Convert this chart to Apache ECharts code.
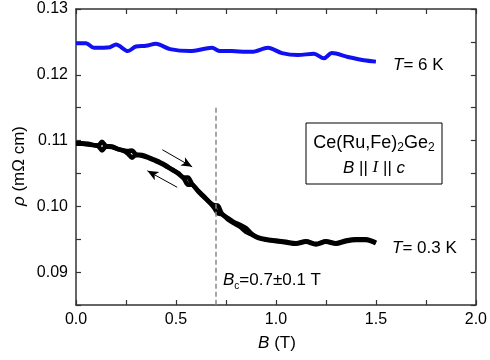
<!DOCTYPE html>
<html>
<head>
<meta charset="utf-8">
<script src="https://cdn.jsdelivr.net/npm/echarts@6/dist/echarts.min.js"></script>
<style>
  html, body { margin: 0; padding: 0; background: #fff; }
  #chart { width: 490px; height: 360px; }
</style>
</head>
<body>
<div id="chart"></div>
<script>
// Field sweep, B in tesla
const FONT = '"Liberation Sans", Arial, sans-serif';

// T = 6 K resistivity (mΩ cm)
const fieldT6 = [0, 0.05, 0.09, 0.17, 0.2, 0.26, 0.3, 0.35, 0.4, 0.47, 0.57, 0.68, 0.72, 0.78, 0.85, 0.88, 0.96, 1.03, 1.11, 1.19, 1.24, 1.28, 1.36, 1.44, 1.5];
const rhoT6   = [0.1248, 0.1248, 0.1241, 0.1242, 0.1246, 0.1236, 0.1243, 0.1244, 0.1247, 0.1239, 0.1236, 0.1241, 0.1236, 0.1236, 0.1235, 0.1235, 0.1241, 0.1233, 0.1230, 0.1232, 0.1225, 0.1233, 0.1227, 0.1222, 0.1220];

// T = 0.3 K, increasing and decreasing field sweeps
const fieldT03 = [0, 0.03, 0.06, 0.09, 0.11, 0.13, 0.15, 0.18, 0.21, 0.24, 0.26, 0.28, 0.30, 0.33, 0.36, 0.39, 0.42, 0.45, 0.48, 0.51, 0.54, 0.56, 0.58, 0.61, 0.64, 0.67, 0.69, 0.71, 0.73, 0.76, 0.79, 0.82, 0.85, 0.88, 0.91, 0.95, 1.0, 1.05, 1.1, 1.15, 1.2, 1.25, 1.3, 1.35, 1.4, 1.45, 1.5];
const rhoT03Up = [0.1096, 0.1096, 0.1095, 0.1093, 0.1092, 0.1098, 0.1092, 0.1091, 0.1087, 0.1085, 0.1084, 0.1085, 0.1079, 0.1078, 0.1075, 0.1071, 0.1067, 0.1062, 0.1056, 0.1051, 0.1044, 0.1044, 0.1034, 0.1024, 0.1015, 0.1006, 0.1002, 0.1001, 0.0989, 0.0982, 0.0976, 0.0972, 0.0967, 0.0958, 0.0953, 0.0950, 0.0948, 0.0946, 0.0944, 0.0947, 0.0943, 0.0947, 0.0944, 0.0948, 0.0950, 0.0950, 0.0945];
const rhoT03Down = [0.1095, 0.1095, 0.1094, 0.1093, 0.1092, 0.1085, 0.1091, 0.1090, 0.1087, 0.1084, 0.1080, 0.1074, 0.1078, 0.1077, 0.1074, 0.1070, 0.1066, 0.1061, 0.1056, 0.1050, 0.1042, 0.1033, 0.1033, 0.1023, 0.1014, 0.1005, 0.0998, 0.0989, 0.0988, 0.0980, 0.0974, 0.0969, 0.0961, 0.0957, 0.0952, 0.0949, 0.0947, 0.0945, 0.0943, 0.0946, 0.0942, 0.0946, 0.0943, 0.0947, 0.0949, 0.0949, 0.0944];

// Critical field and sweep-direction arrows (data units)
const criticalField = 0.7;
const arrowUp   = [[0.432, 0.1086], [0.581, 0.1060]];
const arrowDown = [[0.506, 0.1029], [0.357, 0.1054]];

const xTicks = { min: 0, max: 2, interval: 0.25 };
const yTicks = { min: 0.085, max: 0.13, interval: 0.005 };

const pair = (xs, ys) => xs.map((x, i) => [x, ys[i]]);

const axisColor = '#333';
const baseAxis = (t) => ({
  type: 'value', min: t.min, max: t.max, interval: t.interval,
  axisLine: { show: true, onZero: false, lineStyle: { color: axisColor, width: 1.5 } },
  axisTick: { show: true, inside: true, length: 5, lineStyle: { color: axisColor, width: 1.2 } },
  splitLine: { show: false },
  axisLabel: { show: false }
});

const xMain = Object.assign(baseAxis(xTicks), {
  position: 'bottom',
  axisLabel: {
    show: true, margin: 7, fontFamily: FONT, fontSize: 16, color: '#000',
    formatter: v => Math.abs(v * 2 - Math.round(v * 2)) < 1e-6 ? v.toFixed(1) : ''
  }
});
const xTop = Object.assign(baseAxis(xTicks), { position: 'top' });
const yMain = Object.assign(baseAxis(yTicks), {
  position: 'left',
  axisLabel: {
    show: true, margin: 8, fontFamily: FONT, fontSize: 16, color: '#000',
    formatter: v => Math.abs(v * 100 - Math.round(v * 100)) < 1e-6 ? v.toFixed(2) : ''
  }
});
const yRight = Object.assign(baseAxis(yTicks), { position: 'right' });

const arrowLine = (a) => [
  { coord: a[0], symbol: 'none' },
  { coord: a[1], symbol: 'arrow', symbolSize: [7, 11] }
];

const option = {
  animation: false,
  backgroundColor: '#fff',
  grid: { left: 76, right: 11, top: 9, bottom: 55, containLabel: false },
  xAxis: [xMain, xTop],
  yAxis: [yMain, yRight],
  series: [
    {
      type: 'line', data: pair(fieldT6, rhoT6), showSymbol: false, smooth: 0.3,
      lineStyle: { color: '#1010f0', width: 4 }, z: 3
    },
    {
      type: 'line', data: pair(fieldT03, rhoT03Up), showSymbol: false, smooth: 0.3,
      lineStyle: { color: '#000', width: 4.5 }, z: 3,
      markLine: {
        silent: true, symbol: 'none', label: { show: false },
        data: [
          [{ coord: [criticalField, 0.115], symbol: 'none',
             lineStyle: { color: '#888', width: 1.5, type: [5, 3] } },
           { coord: [criticalField, 0.085], symbol: 'none' }],
          arrowLine(arrowUp),
          arrowLine(arrowDown)
        ],
        lineStyle: { color: '#000', width: 1, type: 'solid' }
      }
    },
    {
      type: 'line', data: pair(fieldT03, rhoT03Down), showSymbol: false, smooth: 0.3,
      lineStyle: { color: '#000', width: 4.5 }, z: 3
    }
  ],
  graphic: [
    { type: 'rect', shape: { x: 306, y: 123, width: 136, height: 61 },
      style: { fill: '#fff', stroke: '#000', lineWidth: 1 }, z: 10 },
    { type: 'text', x: 374, y: 143, z: 11,
      style: {
        text: 'Ce(Ru,Fe){s|2}Ge{s|2}', align: 'center', verticalAlign: 'middle',
        font: '18px ' + FONT, fill: '#000',
        rich: { s: { font: '12px ' + FONT, padding: [10, 0, 0, 0], fill: '#000' } }
      } },
    { type: 'text', x: 374, y: 168, z: 11,
      style: {
        text: '{i|B} || {j|I} || {i|c}', align: 'center', verticalAlign: 'middle',
        font: '17px ' + FONT, fill: '#000',
        rich: {
          i: { font: 'italic 17px ' + FONT, fill: '#000' },
          j: { font: 'italic 17px "Liberation Serif", serif', fill: '#000' }
        }
      } },
    { type: 'text', x: 393, y: 65, z: 11,
      style: {
        text: '{i|T}= 6 K', verticalAlign: 'middle', font: '17px ' + FONT, fill: '#000',
        rich: { i: { font: 'italic 17px ' + FONT, fill: '#000' } }
      } },
    { type: 'text', x: 392, y: 248, z: 11,
      style: {
        text: '{i|T}= 0.3 K', verticalAlign: 'middle', font: '17px ' + FONT, fill: '#000',
        rich: { i: { font: 'italic 17px ' + FONT, fill: '#000' } }
      } },
    { type: 'text', x: 223, y: 280, z: 11,
      style: {
        text: '{i|B}{s|c}=0.7\u00b10.1 T', verticalAlign: 'middle', font: '17px ' + FONT, fill: '#000',
        rich: {
          i: { font: 'italic 17px ' + FONT, fill: '#000' },
          s: { font: '10px ' + FONT, padding: [13, 0, 0, 0], fill: '#000' }
        }
      } },
    { type: 'text', x: 277, y: 343, z: 11,
      style: {
        text: '{i|B} (T)', align: 'center', verticalAlign: 'middle', font: '17px ' + FONT, fill: '#000',
        rich: { i: { font: 'italic 17px ' + FONT, fill: '#000' } }
      } },
    { type: 'text', x: 19, y: 166, rotation: Math.PI / 2, z: 11,
      style: {
        text: '{i|\u03c1} (m\u03a9 cm)', align: 'center', verticalAlign: 'middle', font: '17px ' + FONT, fill: '#000',
        rich: { i: { font: 'italic 17px ' + FONT, fill: '#000' } }
      } }
  ]
};

const chart = echarts.init(document.getElementById('chart'), null, { renderer: 'canvas' });
chart.setOption(option);
</script>
</body>
</html>
